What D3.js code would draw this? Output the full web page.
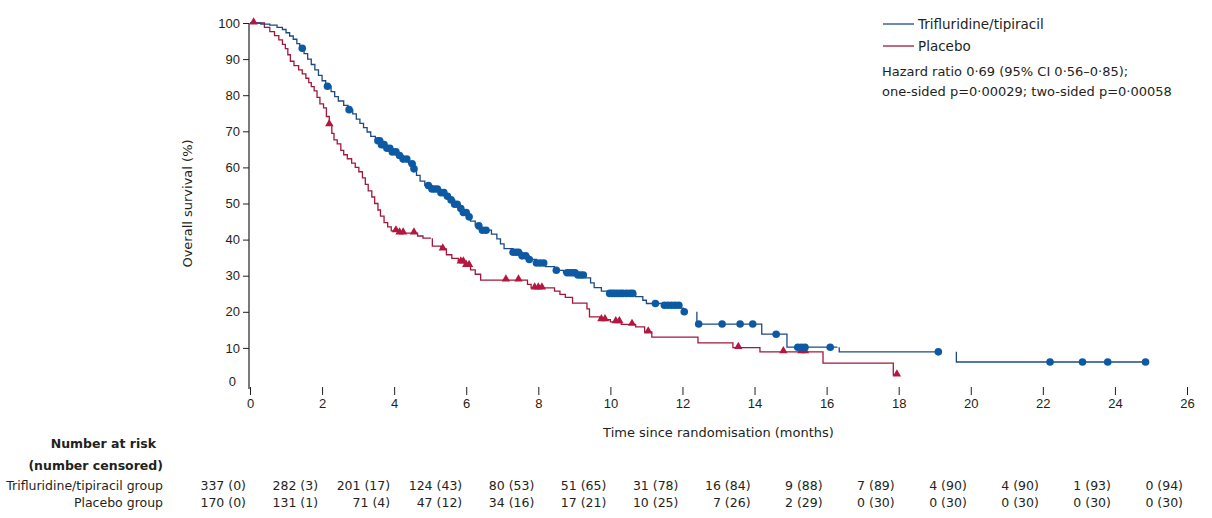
<!DOCTYPE html>
<html>
<head>
<meta charset="utf-8">
<script src="https://cdn.jsdelivr.net/npm/d3@7"></script>
<style>
  body { margin: 0; background: #fff; }
  svg { display: block; font-family: "DejaVu Sans", sans-serif; }
</style>
</head>
<body>
<svg id="chart" width="1212" height="518"></svg>
<script>
// Axis ticks
const monthTicks = [0, 2, 4, 6, 8, 10, 12, 14, 16, 18, 20, 22, 24, 26];
const survivalTicks = [0, 10, 20, 30, 40, 50, 60, 70, 80, 90, 100];

// Legend and statistics text
const tftLabel = "Trifluridine/tipiracil";
const placeboLabel = "Placebo";
const statsLines = [
  "Hazard ratio 0·69 (95% CI 0·56–0·85);",
  "one-sided p=0·00029; two-sided p=0·00058"
];

// Number at risk table
const riskHeader = ["Number at risk", "(number censored)"];
const riskGroups = ["Trifluridine/tipiracil group", "Placebo group"];
const tftAtRisk = [337, 282, 201, 124, 80, 51, 31, 16, 9, 7, 4, 4, 1, 0];
const tftCensored = [0, 3, 17, 43, 53, 65, 78, 84, 88, 89, 90, 90, 93, 94];
const placeboAtRisk = [170, 131, 71, 47, 34, 17, 10, 7, 2, 0, 0, 0, 0, 0];
const placeboCensored = [0, 1, 4, 12, 16, 21, 25, 26, 29, 30, 30, 30, 30, 30];

// Kaplan-Meier step points [month, survival %]; null = curve not drawn until next step
const tftSteps = [
  [0,100],[0.3,99.7],[0.55,99.4],[0.75,98.8],[0.9,98.2],[1.0,97.3],[1.1,96.4],[1.2,95.5],
  [1.3,94.3],[1.38,93.0],[1.5,91.5],[1.6,90.0],[1.7,88.5],[1.8,87.0],[1.9,85.5],[2.0,84.0],
  [2.1,82.5],[2.25,81.0],[2.35,79.6],[2.45,78.4],[2.6,77.2],[2.72,76.0],[2.85,74.8],[2.95,73.4],
  [3.05,72.2],[3.15,71.0],[3.25,69.8],[3.35,68.6],[3.48,67.4],[3.62,66.3],[3.78,65.3],[3.95,64.3],
  [4.1,63.3],[4.25,62.3],[4.4,61.0],[4.52,59.6],[4.62,57.8],[4.72,56.2],[4.85,55.0],[5.05,54.0],
  [5.25,53.0],[5.4,52.0],[5.55,51.0],[5.68,49.8],[5.8,48.6],[5.92,47.5],[6.02,46.3],[6.12,45.1],
  [6.25,43.8],[6.4,42.6],[6.7,41.5],[6.85,40.2],[6.95,38.8],[7.05,37.5],[7.3,36.5],[7.55,35.5],
  [7.75,34.5],[7.95,33.5],[8.2,32.5],[8.45,31.5],[8.7,30.8],[9.05,30.2],[9.3,29.4],[9.45,28.0],
  [9.55,26.7],[9.75,25.7],[9.95,25.1],[10.7,24.2],[10.9,23.2],[11.0,22.3],[11.5,21.8],[11.95,21.0],
  [12.02,20.0],[12.12,null],[12.4,16.6],[14.2,13.8],[14.9,10.2],[16.3,null],[16.35,8.9],
  [19.15,null],[19.6,6.1],[24.9,6.1]
];
const placeboSteps = [
  [0,100],[0.4,98.8],[0.55,97.6],[0.68,96.5],[0.8,95.3],[0.9,94.1],[0.98,92.9],[1.05,91.2],
  [1.12,89.4],[1.22,88.2],[1.35,87.0],[1.45,85.9],[1.55,84.7],[1.63,83.5],[1.7,82.4],[1.78,81.2],
  [1.86,79.4],[1.94,77.6],[2.04,76.5],[2.12,74.1],[2.2,71.8],[2.27,69.4],[2.33,67.6],[2.42,66.5],
  [2.52,64.7],[2.6,63.5],[2.7,62.4],[2.82,61.2],[2.92,60.0],[3.02,58.8],[3.12,57.1],[3.2,55.3],
  [3.28,53.5],[3.38,51.8],[3.46,50.0],[3.55,48.2],[3.62,46.5],[3.72,44.7],[3.82,43.5],[3.92,42.4],
  [4.1,41.8],[4.65,41.0],[4.8,40.4],[5.02,null],[5.06,38.2],[5.3,37.4],[5.45,35.8],[5.6,34.8],
  [5.78,33.8],[6.0,32.8],[6.12,31.6],[6.25,30.4],[6.4,28.8],[7.7,27.6],[7.8,26.6],[8.45,25.7],
  [8.6,24.8],[8.75,24.0],[8.95,22.4],[9.35,20.8],[9.42,18.6],[9.7,17.8],[10.0,17.2],[10.3,16.5],
  [10.7,15.8],[10.95,14.4],[11.15,13.0],[12.43,11.4],[13.4,10.1],[14.15,8.9],[15.9,5.8],
  [17.85,2.5],[17.98,2.5]
];

// Censoring times (months)
const tftCensorTimes = [
  1.45, 2.15, 2.75, 3.55, 3.6, 3.65, 3.72, 3.8, 3.88, 3.95, 4.05, 4.15, 4.25, 4.35, 4.5, 4.55,
  4.95, 5.05, 5.12, 5.2, 5.3, 5.38, 5.48, 5.58, 5.68, 5.75, 5.85, 5.92, 6.0, 6.08,
  6.35, 6.45, 6.55, 7.3, 7.38, 7.45, 7.55, 7.65, 7.75, 7.95, 8.05, 8.15, 8.5,
  8.8, 8.88, 8.95, 9.02, 9.1, 9.18, 9.25, 9.98, 10.05, 10.12, 10.2, 10.28, 10.35, 10.45,
  10.55, 10.62, 11.25, 11.5, 11.6, 11.7, 11.8, 11.9, 12.05, 12.45, 13.1, 13.6, 13.95,
  14.6, 15.2, 15.3, 15.4, 16.1, 19.1, 22.2, 23.1, 23.8, 24.85
];
const placeboCensorTimes = [
  0.1, 2.2, 4.05, 4.15, 4.25, 4.55, 5.35, 5.85, 5.92, 6.0, 6.08, 7.1, 7.45, 7.9, 8.0, 8.1,
  9.75, 9.85, 10.15, 10.25, 10.6, 11.05, 13.55, 14.8, 15.3, 15.4, 17.95
];

const tftLine = "#1d4a82", tftMark = "#0d5aa4";
const placeboLine = "#a3173d", placeboMark = "#b3173f";
const textColor = "#231f20";

const svg = d3.select("#chart");
svg.append("rect").attr("width", 1212).attr("height", 518).attr("fill", "#fff");

const x = d3.scaleLinear().domain([0, 26]).range([250, 1187]);
const y = d3.scaleLinear().domain([0, 100]).range([384, 23]);

// Y axis
const yAxis = svg.append("g")
  .attr("transform", "translate(249,0)")
  .call(d3.axisLeft(y).tickValues(survivalTicks).tickSize(6).tickPadding(3));
yAxis.select(".domain").remove();
yAxis.selectAll(".tick").filter(d => d === 0).select("line").remove();
yAxis.selectAll(".tick").filter(d => d === 0).select("text").attr("dy", "0.1em").attr("x", -13);
yAxis.selectAll("line").attr("stroke", textColor);
yAxis.selectAll("text").attr("fill", textColor).style("font-size", "13px");
svg.append("line")
  .attr("x1", 249).attr("x2", 249).attr("y1", y(100)).attr("y2", 389)
  .attr("stroke", textColor).attr("stroke-width", 1.2);

// X axis (ticks only)
const xAxis = svg.append("g")
  .attr("transform", "translate(0,387)")
  .call(d3.axisBottom(x).tickValues(monthTicks).tickSize(8).tickPadding(4));
xAxis.select(".domain").remove();
xAxis.selectAll("line").attr("stroke", textColor);
xAxis.selectAll("text").attr("fill", textColor).style("font-size", "13px");

svg.append("text")
  .attr("x", x(13)).attr("y", 437)
  .attr("text-anchor", "middle").attr("fill", textColor).style("font-size", "13px")
  .text("Time since randomisation (months)");

svg.append("text")
  .attr("transform", `translate(192,${y(50)}) rotate(-90)`)
  .attr("text-anchor", "middle").attr("fill", textColor).style("font-size", "13px")
  .text("Overall survival (%)");

// Kaplan-Meier curves
function kmPath(steps) {
  let d = "", level = null, pen = false;
  steps.forEach(([t, s], i) => {
    const px = x(t);
    if (i === 0) { d += `M${px},${y(s)}`; level = s; pen = true; return; }
    if (s === null) { if (pen) d += `H${px}`; pen = false; return; }
    if (pen) d += `H${px}V${y(s)}`;
    else d += `M${px},${y(level)}V${y(s)}`;
    level = s; pen = true;
  });
  return d;
}
function survivalAt(steps, t) {
  let level = steps[0][1];
  for (const [st, s] of steps) {
    if (st > t) break;
    if (s !== null) level = s;
  }
  return level;
}

svg.append("path").attr("d", kmPath(placeboSteps))
  .attr("fill", "none").attr("stroke", placeboLine).attr("stroke-width", 1.3);
svg.append("path").attr("d", kmPath(tftSteps))
  .attr("fill", "none").attr("stroke", tftLine).attr("stroke-width", 1.3);

const tri = d3.symbol().type(d3.symbolTriangle).size(30);
svg.append("g").selectAll("path")
  .data(placeboCensorTimes).join("path")
  .attr("d", tri)
  .attr("transform", t => `translate(${x(t)},${y(survivalAt(placeboSteps, t)) - 1})`)
  .attr("fill", placeboMark);

svg.append("g").selectAll("circle")
  .data(tftCensorTimes).join("circle")
  .attr("cx", t => x(t))
  .attr("cy", t => y(survivalAt(tftSteps, t)))
  .attr("r", 3.8)
  .attr("fill", tftMark);

// Legend
const legend = [[tftLabel, tftLine], [placeboLabel, placeboLine]];
legend.forEach(([label, color], i) => {
  const ly = 24 + i * 22;
  svg.append("line").attr("x1", 883).attr("x2", 914).attr("y1", ly).attr("y2", ly)
    .attr("stroke", color).attr("stroke-width", 1.3);
  svg.append("text").attr("x", 918).attr("y", ly + 5)
    .attr("fill", textColor).style("font-size", "13.5px").text(label);
});
statsLines.forEach((line, i) => {
  svg.append("text").attr("x", 882).attr("y", 76 + i * 20)
    .attr("fill", textColor).style("font-size", "13px").text(line);
});

// Number at risk table
riskHeader.forEach((line, i) => {
  svg.append("text").attr("x", i === 0 ? 156 : 163).attr("y", 448 + i * 22)
    .attr("text-anchor", "end").attr("fill", textColor)
    .style("font-size", "12.5px").style("font-weight", "bold").text(line);
});
const riskRows = [[tftAtRisk, tftCensored], [placeboAtRisk, placeboCensored]];
riskRows.forEach(([atRisk, censored], r) => {
  const ry = 490 + r * 17;
  svg.append("text").attr("x", 163).attr("y", ry)
    .attr("text-anchor", "end").attr("fill", textColor).style("font-size", "12.5px")
    .text(riskGroups[r]);
  svg.append("g").selectAll("text")
    .data(monthTicks).join("text")
    .attr("x", (t) => x(t) - 4).attr("y", ry)
    .attr("text-anchor", "end").attr("fill", textColor).style("font-size", "12.5px")
    .text((t, i) => `${atRisk[i]} (${censored[i]})`);
});
</script>
</body>
</html>
